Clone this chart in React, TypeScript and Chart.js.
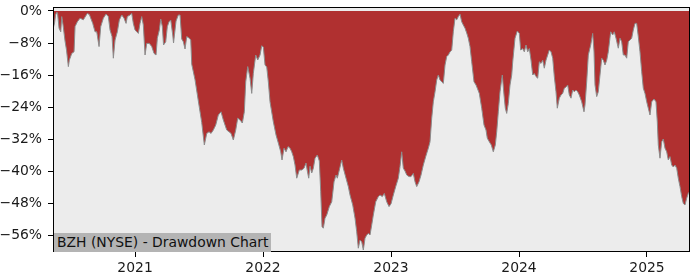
import { useEffect, useRef } from "react";
import { Chart, registerables } from "chart.js";

Chart.register(...registerables);

const TITLE = "BZH (NYSE) - Drawdown Chart";

// decimal years
const dates = [
  2020.359, 2020.3711, 2020.3789, 2020.3883, 2020.3945, 2020.4063, 2020.4195, 2020.4273, 2020.4375, 2020.4531,
  2020.4648, 2020.4789, 2020.4867, 2020.5055, 2020.5234, 2020.5313, 2020.5492, 2020.5703, 2020.5961, 2020.6094,
  2020.6273, 2020.643, 2020.6695, 2020.6875, 2020.7008, 2020.7188, 2020.732, 2020.7523, 2020.7734, 2020.7914,
  2020.8047, 2020.8203, 2020.8305, 2020.8438, 2020.8617, 2020.8773, 2020.8961, 2020.9141, 2020.9297, 2020.9398,
  2020.9609, 2020.9742, 2020.9867, 2021.0, 2021.0133, 2021.0258, 2021.0391, 2021.0523, 2021.0648, 2021.0781,
  2021.0914, 2021.1117, 2021.1305, 2021.1484, 2021.1641, 2021.1742, 2021.1898, 2021.2008, 2021.2133, 2021.2227,
  2021.2398, 2021.2523, 2021.2656, 2021.2789, 2021.2945, 2021.3008, 2021.3203, 2021.3383, 2021.3516, 2021.3648,
  2021.3773, 2021.3906, 2021.4039, 2021.4242, 2021.4352, 2021.443, 2021.4688, 2021.4945, 2021.5211, 2021.5414,
  2021.5602, 2021.5781, 2021.5938, 2021.6117, 2021.6305, 2021.6508, 2021.6719, 2021.6898, 2021.7164, 2021.7344,
  2021.75, 2021.768, 2021.7867, 2021.8023, 2021.8203, 2021.8383, 2021.8539, 2021.8648, 2021.8805, 2021.8984,
  2021.9117, 2021.9242, 2021.943, 2021.9586, 2021.9766, 2021.9898, 2022.0023, 2022.0156, 2022.0289, 2022.0414,
  2022.0547, 2022.0805, 2022.1016, 2022.1195, 2022.1383, 2022.1484, 2022.1641, 2022.1797, 2022.1953, 2022.2109,
  2022.2242, 2022.2367, 2022.25, 2022.2633, 2022.2836, 2022.3023, 2022.3203, 2022.3359, 2022.3461, 2022.357,
  2022.3672, 2022.3805, 2022.393, 2022.4063, 2022.4242, 2022.4398, 2022.4508, 2022.4609, 2022.4711, 2022.4844,
  2022.4977, 2022.518, 2022.5367, 2022.5547, 2022.5703, 2022.5805, 2022.5961, 2022.6148, 2022.6273, 2022.6484,
  2022.6664, 2022.6797, 2022.7008, 2022.7188, 2022.732, 2022.7445, 2022.7578, 2022.7711, 2022.7836, 2022.7969,
  2022.8102, 2022.8227, 2022.8359, 2022.8492, 2022.8617, 2022.8805, 2022.9008, 2022.9141, 2022.932, 2022.9477,
  2022.9664, 2022.9844, 2023.0, 2023.018, 2023.0367, 2023.057, 2023.0703, 2023.0836, 2023.0961, 2023.1094,
  2023.1227, 2023.1406, 2023.1563, 2023.1742, 2023.1875, 2023.2008, 2023.2188, 2023.2344, 2023.2523, 2023.2711,
  2023.2914, 2023.3047, 2023.318, 2023.3305, 2023.3438, 2023.357, 2023.3695, 2023.3828, 2023.3961, 2023.4086,
  2023.4219, 2023.4352, 2023.4477, 2023.4609, 2023.4742, 2023.4867, 2023.5, 2023.5133, 2023.5258, 2023.5391,
  2023.5523, 2023.5648, 2023.5781, 2023.5914, 2023.6039, 2023.6172, 2023.6305, 2023.6484, 2023.6641, 2023.6742,
  2023.6898, 2023.7086, 2023.7266, 2023.7422, 2023.7523, 2023.768, 2023.7836, 2023.7992, 2023.8148, 2023.8258,
  2023.8383, 2023.8516, 2023.8695, 2023.8828, 2023.893, 2023.9039, 2023.9164, 2023.9297, 2023.943, 2023.9508,
  2023.9688, 2023.9867, 2024.0023, 2024.0133, 2024.0289, 2024.0414, 2024.0547, 2024.068, 2024.0805, 2024.0938,
  2024.107, 2024.1195, 2024.1328, 2024.1461, 2024.1586, 2024.1719, 2024.1852, 2024.1977, 2024.2109, 2024.2242,
  2024.2367, 2024.25, 2024.2633, 2024.2758, 2024.2891, 2024.2992, 2024.3148, 2024.3281, 2024.3414, 2024.3539,
  2024.3672, 2024.3805, 2024.393, 2024.4063, 2024.4195, 2024.432, 2024.4453, 2024.4586, 2024.4711, 2024.4898,
  2024.5078, 2024.5156, 2024.5289, 2024.5414, 2024.5602, 2024.5758, 2024.5859, 2024.5938, 2024.607, 2024.6195,
  2024.6328, 2024.6461, 2024.6586, 2024.6719, 2024.6852, 2024.6977, 2024.7164, 2024.732, 2024.7445, 2024.7578,
  2024.7758, 2024.7891, 2024.8023, 2024.8148, 2024.8281, 2024.8414, 2024.8539, 2024.8672, 2024.8805, 2024.893,
  2024.9063, 2024.9195, 2024.932, 2024.9453, 2024.9586, 2024.9711, 2024.9844, 2024.9977, 2025.0102, 2025.0234,
  2025.0367, 2025.0547, 2025.0703, 2025.0805, 2025.0883, 2025.1016, 2025.1148, 2025.1273, 2025.1406, 2025.1539,
  2025.1664, 2025.1797, 2025.193, 2025.2055, 2025.2188, 2025.232, 2025.2445, 2025.2578, 2025.2711, 2025.2836,
  2025.2969, 2025.3102, 2025.3227, 2025.336,
];

// drawdown in percent
const drawdown = [
  -4.5, -3.0, -1.0, -0.3, -0.5, -4.3, -5.2, -1.4, -3.5, -7.5,
  -9.8, -13.9, -12.3, -10.6, -10.2, -3.9, -2.7, -1.8, -2.2, -1.5,
  -0.6, -0.9, -3.1, -5.2, -5.2, -8.9, -3.9, -1.8, -0.75, -1.4,
  -4.75, -6.4, -11.8, -7.25, -5.2, -2.25, -1.0, -1.8, -3.1, -1.4,
  -1.0, -0.6, -3.1, -4.75, -5.2, -5.6, -3.1, -1.4, -3.5, -11.0,
  -8.1, -8.1, -8.9, -10.6, -11.0, -6.8, -4.75, -2.0, -3.9, -8.5,
  -7.7, -3.9, -2.7, -2.25, -6.0, -8.0, -2.5, -1.0, -1.0, -7.0,
  -7.7, -9.5, -6.4, -6.8, -7.25, -13.3, -17.2, -22.5, -27.9, -33.5,
  -30.6, -30.2, -30.6, -29.75, -28.5, -26.0, -25.2, -27.25, -29.75, -30.2,
  -30.6, -32.25, -29.75, -26.8, -27.25, -28.0, -25.2, -17.7, -13.9, -16.8,
  -20.6, -15.6, -11.0, -12.25, -11.0, -8.7, -9.0, -13.5, -14.0, -17.7,
  -22.7, -27.7, -31.0, -33.0, -35.2, -37.25, -34.3, -35.2, -33.9, -34.3,
  -35.2, -36.4, -38.5, -41.8, -39.75, -39.75, -39.3, -38.0, -40.0, -41.8,
  -38.8, -40.5, -39.3, -36.8, -36.0, -37.5, -45.2, -53.9, -54.3, -51.8,
  -51.0, -48.9, -47.7, -42.7, -41.0, -41.8, -39.75, -37.25, -39.3, -41.8,
  -43.9, -46.0, -48.5, -51.8, -55.2, -59.3, -57.25, -57.7, -59.75, -56.8,
  -56.0, -55.6, -56.0, -53.5, -51.0, -47.7, -46.4, -46.0, -46.4, -45.6,
  -47.7, -48.9, -48.2, -46.0, -43.9, -41.8, -38.9, -35.2, -39.3, -40.0,
  -41.0, -41.4, -41.4, -40.6, -42.7, -43.9, -42.7, -41.0, -38.5, -36.4,
  -34.3, -32.7, -26.8, -22.7, -20.2, -17.25, -16.0, -17.25, -17.7, -18.1,
  -13.5, -11.4, -11.0, -10.2, -9.8, -5.2, -1.8, -2.2, -1.4, -0.8,
  -2.7, -3.5, -4.3, -5.5, -6.8, -8.9, -12.7, -17.7, -18.5, -19.3,
  -20.6, -24.3, -28.5, -29.75, -31.8, -32.7, -33.5, -35.2, -33.5, -30.2,
  -25.2, -20.2, -16.0, -21.0, -24.3, -25.6, -23.1, -18.5, -16.0, -12.7,
  -6.8, -5.0, -5.6, -9.75, -9.4, -10.2, -8.5, -10.2, -9.4, -12.25,
  -16.0, -15.6, -16.4, -16.8, -12.7, -13.1, -12.3, -14.3, -12.3, -11.0,
  -9.75, -10.2, -11.8, -16.4, -20.2, -24.3, -21.8, -21.0, -20.6, -19.3,
  -19.0, -18.5, -21.0, -21.8, -19.75, -20.2, -19.75, -20.2, -21.0, -22.7,
  -25.2, -23.5, -17.7, -11.0, -8.5, -5.6, -10.0, -18.5, -21.4, -20.2,
  -16.0, -11.8, -12.3, -13.5, -12.3, -10.2, -5.2, -6.0, -5.2, -6.8,
  -9.3, -6.8, -7.7, -11.0, -11.0, -11.8, -7.7, -7.25, -6.8, -4.75,
  -3.1, -3.1, -6.4, -10.2, -15.2, -19.3, -20.6, -22.7, -24.3, -26.0,
  -22.7, -22.0, -22.7, -27.7, -33.5, -36.8, -32.7, -32.0, -34.3, -35.2,
  -37.25, -36.4, -38.5, -39.0, -38.5, -39.3, -41.8, -43.9, -46.4, -48.1,
  -48.5, -46.8, -45.6, -45.0,
];

const xTicks = [2021, 2022, 2023, 2024, 2025];
const xTickLabels = ["2021", "2022", "2023", "2024", "2025"];
const yTicks = [0, -8, -16, -24, -32, -40, -48, -56];
const yTickLabels = ["0%", "\u22128%", "\u221216%", "\u221224%", "\u221232%", "\u221240%", "\u221248%", "\u221256%"];

const X_MIN = 2020.359;
const X_MAX = 2025.336;
const Y_MIN = -60.25;
const Y_MAX = 1;

const FONT = "'DejaVu Sans', sans-serif";
const FONT_SIZE = 13.9;

const framePlugin = {
  id: "frame",
  beforeDraw(chart: any) {
    const { ctx, chartArea } = chart;
    ctx.save();
    ctx.fillStyle = "#ffffff";
    ctx.fillRect(0, 0, chart.width, chart.height);
    ctx.fillStyle = "#ececec";
    ctx.fillRect(chartArea.left, chartArea.top, chartArea.right - chartArea.left, chartArea.bottom - chartArea.top);
    ctx.restore();
  },
  afterDraw(chart: any) {
    const { ctx, chartArea } = chart;
    ctx.save();
    ctx.strokeStyle = "#000000";
    ctx.lineWidth = 1;
    ctx.strokeRect(
      Math.round(chartArea.left) + 0.5,
      Math.round(chartArea.top) + 0.5,
      Math.round(chartArea.right - chartArea.left) - 1,
      Math.round(chartArea.bottom - chartArea.top) - 1
    );
    ctx.restore();
  },
};

export default function App() {
  const canvasRef = useRef<HTMLCanvasElement | null>(null);

  useEffect(() => {
    document.body.style.margin = "0";
    const canvas = canvasRef.current;
    if (!canvas) return;
    const points = dates.map((d, i) => ({ x: d, y: drawdown[i] }));
    const chart = new Chart(canvas, {
      type: "line",
      data: {
        datasets: [
          {
            label: "Drawdown",
            data: points,
            borderColor: "#8c8c8c",
            borderWidth: 1,
            backgroundColor: "#b03030",
            fill: "origin",
            pointRadius: 0,
            tension: 0,
          },
        ],
      },
      options: {
        animation: false,
        responsive: false,
        devicePixelRatio: 1,
        layout: { padding: { left: 0, top: 7, right: 10, bottom: 0 } },
        plugins: {
          legend: { display: false },
          tooltip: { enabled: false },
          title: { display: false },
        },
        scales: {
          x: {
            type: "linear",
            min: X_MIN,
            max: X_MAX,
            afterBuildTicks: (scale: any) => {
              scale.ticks = xTicks.map((v) => ({ value: v }));
            },
            afterFit: (scale: any) => {
              scale.height = 28;
              scale.paddingLeft = 0;
              scale.paddingRight = 0;
              scale.paddingTop = 0;
              scale.paddingBottom = 0;
            },
            ticks: {
              autoSkip: false,
              maxRotation: 0,
              padding: 3,
              color: "#1a1a1a",
              font: { family: FONT, size: FONT_SIZE },
              callback: (value: any) => {
                const i = xTicks.indexOf(Number(value));
                return i >= 0 ? xTickLabels[i] : "";
              },
            },
            grid: {
              drawOnChartArea: false,
              drawTicks: true,
              tickLength: 5,
              color: "#000000",
            },
            border: { display: false },
          },
          y: {
            type: "linear",
            min: Y_MIN,
            max: Y_MAX,
            afterBuildTicks: (scale: any) => {
              scale.ticks = yTicks.map((v) => ({ value: v }));
            },
            afterFit: (scale: any) => {
              scale.width = 53;
              scale.paddingLeft = 0;
              scale.paddingRight = 0;
              scale.paddingTop = 0;
              scale.paddingBottom = 0;
            },
            ticks: {
              autoSkip: false,
              padding: 6,
              color: "#1a1a1a",
              font: { family: FONT, size: FONT_SIZE },
              callback: (value: any) => {
                const i = yTicks.indexOf(Number(value));
                return i >= 0 ? yTickLabels[i] : "";
              },
            },
            grid: {
              drawOnChartArea: false,
              drawTicks: true,
              tickLength: 5,
              color: "#000000",
            },
            border: { display: false },
          },
        },
      },
      plugins: [framePlugin],
    } as any);
    return () => chart.destroy();
  }, []);

  return (
    <div style={{ position: "relative", width: 700, height: 280 }}>
      <canvas ref={canvasRef} width={700} height={280} style={{ display: "block" }} />
      <div
        style={{
          position: "absolute",
          left: 54,
          top: 233,
          height: 19,
          lineHeight: "19px",
          padding: "0 3px",
          background: "#b4b4b4",
          color: "#111111",
          fontFamily: FONT,
          fontSize: FONT_SIZE,
          whiteSpace: "nowrap",
        }}
      >
        {TITLE}
      </div>
    </div>
  );
}
